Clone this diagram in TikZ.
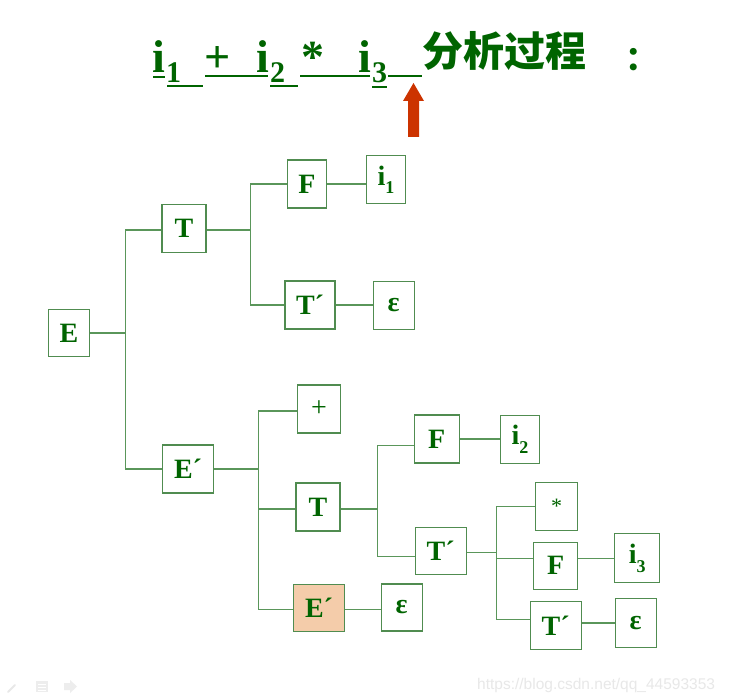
\documentclass[tikz,border=0pt]{standalone}
\usepackage{fontspec}
\setmainfont{Liberation Serif}
\newfontfamily\cjk{Noto Sans CJK SC}
\newfontfamily\wm{Liberation Sans}
\usetikzlibrary{calc}
\definecolor{tg}{RGB}{0,100,0}
\definecolor{bg}{RGB}{80,140,80}
\definecolor{lg}{RGB}{90,150,90}
\definecolor{peach}{RGB}{244,204,170}
\definecolor{arr}{RGB}{204,51,0}
\newcommand{\sbs}[1]{\raisebox{-0.3em}{\fontsize{18}{18}\selectfont #1}}
\begin{document}
\begin{tikzpicture}[x=1pt,y=-1pt,
  box/.style={draw=bg,line width=1.3pt,fill=white,inner sep=0pt,text=tg,font=\fontsize{28}{28}\selectfont\bfseries},
  wire/.style={draw=lg,line width=1.3pt},
  ul/.style={draw=tg,line width=2pt},
  hd/.style={inner sep=0pt,text=tg,anchor=base west,font=\fontsize{46}{46}\selectfont\bfseries},
  hs/.style={inner sep=0pt,text=tg,anchor=base west,font=\fontsize{30}{30}\selectfont\bfseries},
  hc/.style={inner sep=0pt,anchor=west,text=tg,font=\cjk\bfseries\fontsize{41}{41}\selectfont}]
\useasboundingbox (0,0) rectangle (729,698);
\fill[white] (0,0) rectangle (729,698);

% header
\node[hd] (h1) at (152,73) {i};
\node[hs] (h2) at (166,83) {1};
\node[hd] (h3) at (204,73) {+};
\node[hd] (h4) at (256,73) {i};
\node[hs] (h5) at (270,83) {2};
\node[hd] (h6) at (301,73) {*};
\node[hd] (h7) at (358,73) {i};
\node[hs] (h8) at (372,83) {3};
\node[hc] (h9) at (422,51) {分析过程};
\node[hc,font=\cjk\bfseries\fontsize{33}{33}\selectfont] (h10) at (625,59.5) {：};
\draw[ul] (153,77) -- (165,77);
\draw[ul] (167,86) -- (203,86);
\draw[ul] (205,76) -- (268,76);
\draw[ul] (270,86) -- (298,86);
\draw[ul] (300,76) -- (370,76);
\draw[ul] (372,87) -- (387,87);
\draw[ul] (388,76) -- (422,76);
\fill[arr] (408,137) -- (408,101) -- (403,101) -- (413.5,83) -- (424,101) -- (419,101) -- (419,137) -- cycle;

% boxes
\node[box,minimum width=41pt,minimum height=47pt] (E) at (69,333) {E};
\node[box,minimum width=44pt,minimum height=48pt] (T1) at (184,228.5) {T};
\node[box,minimum width=39pt,minimum height=48pt] (F1) at (307,184) {F};
\node[box,minimum width=39pt,minimum height=48pt] (i1) at (386,179.5) {i\sbs{1}};
\node[box,minimum width=50pt,minimum height=48pt] (Tp1) at (310,305) {T´};
\node[box,minimum width=41pt,minimum height=48pt] (eps1) at (393.7,305.5) {ε};
\node[box,minimum width=51pt,minimum height=48pt] (Ep) at (188,469) {E´};
\node[box,minimum width=43pt,minimum height=48pt,font=\fontsize{28}{28}\selectfont] (plus) at (319,409) {+};
\node[box,minimum width=44pt,minimum height=48pt] (T2) at (318,507) {T};
\node[box,minimum width=51pt,minimum height=47pt,fill=peach] (Ep2) at (319,607.7) {E´};
\node[box,minimum width=41pt,minimum height=47pt] (eps2) at (401.7,607.5) {ε};
\node[box,minimum width=45pt,minimum height=48pt] (F2) at (436.7,439) {F};
\node[box,minimum width=39pt,minimum height=48pt] (i2) at (520,439.3) {i\sbs{2}};
\node[box,minimum width=51pt,minimum height=47pt] (Tp2) at (440.7,550.7) {T´};
\node[box,minimum width=42pt,minimum height=48pt,font=\fontsize{22}{22}\selectfont] (star) at (556.5,506.5) {*};
\node[box,minimum width=44pt,minimum height=47pt] (F3) at (555.7,565.7) {F};
\node[box,minimum width=45pt,minimum height=49pt] (i3) at (637.3,558.3) {i\sbs{3}};
\node[box,minimum width=51pt,minimum height=48pt] (Tp3) at (555.7,625.3) {T´};
\node[box,minimum width=41pt,minimum height=49pt] (eps3) at (635.7,623) {ε};

% connectors
\coordinate (b1) at (125.3,0);
\draw[wire] (E.east) -- (E.east -| b1);
\draw[wire] ([yshift=-1.5pt]T1.west) -- ([yshift=-1.5pt]T1.west -| b1) -- (Ep.west -| b1) -- (Ep.west);
\coordinate (b2) at (250.7,0);
\draw[wire] ([yshift=-1.5pt]T1.east) -- ([yshift=-1.5pt]T1.east -| b2);
\draw[wire] (F1.west) -- (F1.west -| b2) -- (Tp1.west -| b2) -- (Tp1.west);
\draw[wire] (F1.east) -- (F1.east -| i1.west);
\draw[wire] (Tp1.east) -- (Tp1.east -| eps1.west);
\coordinate (b3) at (258.7,0);
\draw[wire] (Ep.east) -- (Ep.east -| b3);
\draw[wire] ([yshift=-2pt]plus.west) -- ([yshift=-2pt]plus.west -| b3) -- ([yshift=-1.5pt]Ep2.west -| b3) -- ([yshift=-1.5pt]Ep2.west);
\draw[wire] ([yshift=-2pt]T2.west) -- ([yshift=-2pt]T2.west -| b3);
\draw[wire] ([yshift=-1.5pt]Ep2.east) -- ([yshift=-1.5pt]Ep2.east -| eps2.west);
\coordinate (b4) at (377.3,0);
\draw[wire] ([yshift=-2pt]T2.east) -- ([yshift=-2pt]T2.east -| b4);
\draw[wire] ([yshift=-6.5pt]F2.west) -- ([yshift=-6.5pt]F2.west -| b4) -- ([yshift=-6pt]Tp2.west -| b4) -- ([yshift=-6pt]Tp2.west);
\draw[wire] (F2.east) -- (F2.east -| i2.west);
\coordinate (b5) at (496.7,0);
\draw[wire] ([yshift=-1.5pt]Tp2.east) -- ([yshift=-1.5pt]Tp2.east -| b5);
\draw[wire] (star.west) -- (star.west -| b5) -- ([yshift=6pt]Tp3.west -| b5) -- ([yshift=6pt]Tp3.west);
\draw[wire] (b5 |- i3.west) -- (F3.west |- i3.west);
\draw[wire] (F3.east |- i3.west) -- (i3.west);
\draw[wire] (Tp3.east |- eps3.west) -- (eps3.west);

% footer
\draw[gray!18,line width=2pt,line cap=round] (8,692) -- (15,685);
\fill[gray!14] (36,681) rectangle (48,692);
\foreach \yy in {684,687,690}{\draw[white,line width=0.6pt] (38,\yy) -- (46,\yy);}
\fill[gray!14] (64,683) -- (70,683) -- (70,680) -- (77,686.5) -- (70,693) -- (70,690) -- (64,690) -- cycle;
\node[inner sep=0pt,anchor=base west,text=gray!18,font=\wm\fontsize{15.5}{15.5}\selectfont] (wmk) at (477,689) {https://blog.csdn.net/qq\_44593353};
\end{tikzpicture}
\end{document}
